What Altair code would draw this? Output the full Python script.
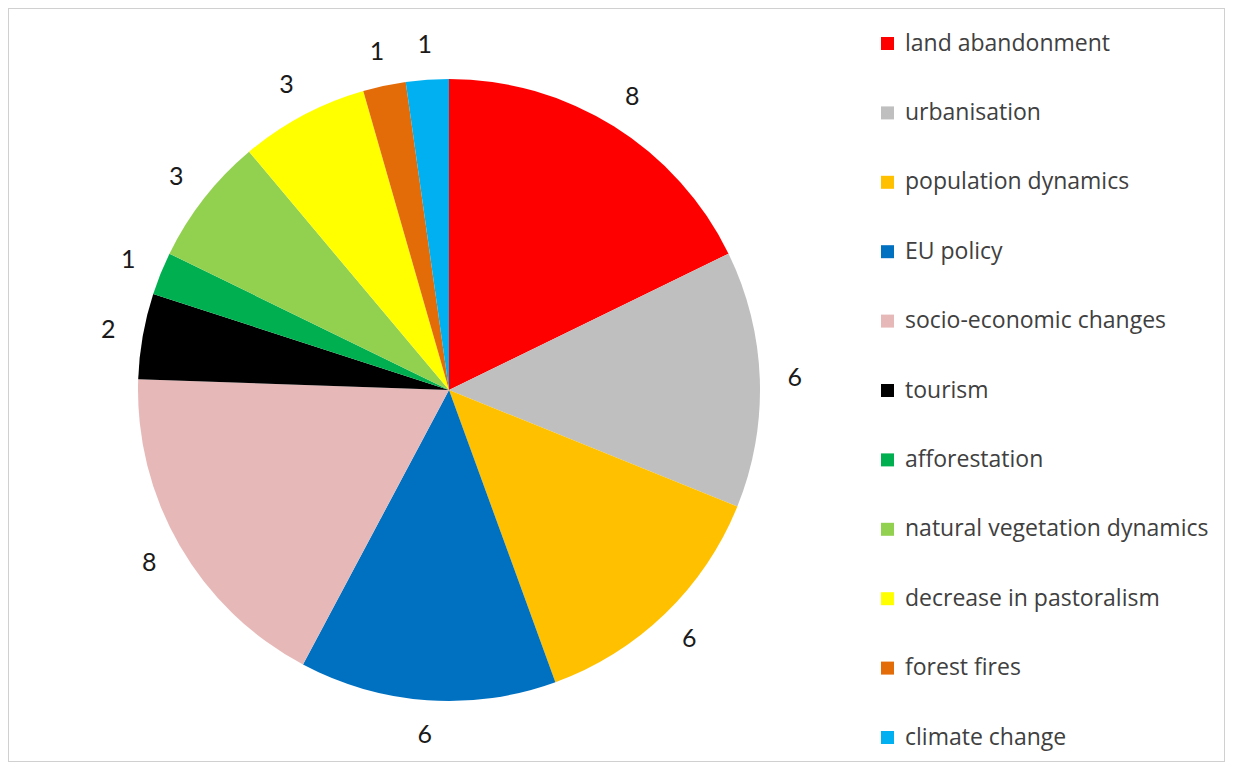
import altair as alt
import pandas as pd

categories = ["land abandonment", "urbanisation", "population dynamics", "EU policy",
              "socio-economic changes", "tourism", "afforestation",
              "natural vegetation dynamics", "decrease in pastoralism", "forest fires",
              "climate change"]
values = [8, 6, 6, 6, 8, 2, 1, 3, 3, 1, 1]
colors = ["#FF0000", "#BFBFBF", "#FFC000", "#0070C0", "#E6B9B8", "#000000",
          "#00B050", "#92D050", "#FFFF00", "#E36C09", "#00B0F0"]

df = pd.DataFrame({"cause": categories, "count": values, "order": list(range(len(values)))})

CX, CY = 441, 382
R = 311
LR = 346

base = alt.Chart(df).encode(
    theta=alt.Theta("count:Q", stack=True),
    order=alt.Order("order:Q"),
)

pie = base.mark_arc(outerRadius=R).encode(
    x=alt.value(CX), y=alt.value(CY),
    color=alt.Color(
        "cause:N",
        scale=alt.Scale(domain=categories, range=colors),
        sort=categories,
        legend=alt.Legend(
            title=None, orient="none", legendX=868, legendY=24,
            symbolType="square", symbolSize=169, symbolStrokeWidth=0,
            labelFont="Open Sans", labelFontSize=23, labelColor="#404040",
            labelOffset=6, rowPadding=45.4, padding=0, labelLimit=400,
        ),
    ),
)

labels = base.mark_text(radius=LR, font="Lato", fontSize=25, color="#1a1a1a").encode(
    x=alt.value(CX), y=alt.value(CY),
    text=alt.Text("count:Q"),
)

chart = alt.layer(pie, labels).properties(
    width=1217, height=754,
    autosize=alt.AutoSizeParams(type="none"),
    padding=0,
).configure_view(stroke="#D0D0D0", strokeWidth=2)

chart.save("out.html", embed_options={"renderer": "svg", "actions": False})
